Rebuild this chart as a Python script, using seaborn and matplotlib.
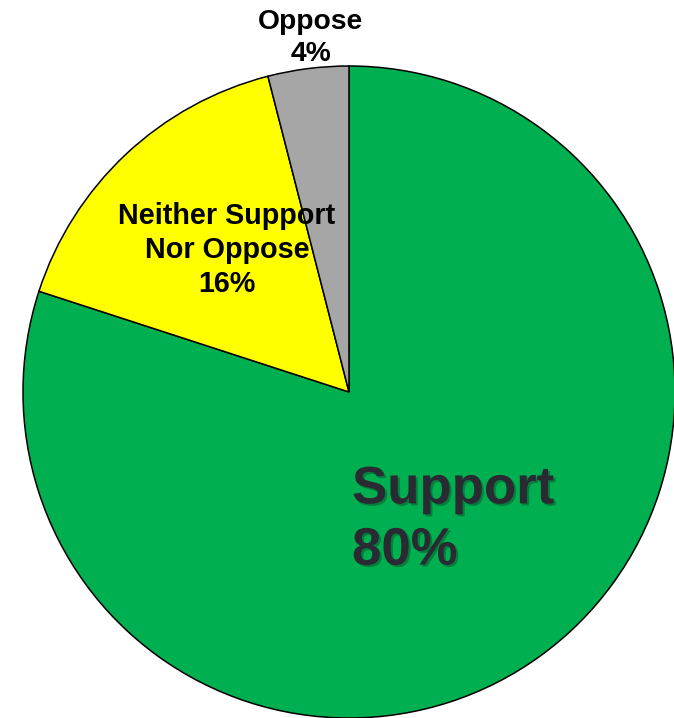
import matplotlib
matplotlib.use("Agg")
import matplotlib.pyplot as plt
import matplotlib.patheffects as pe
import seaborn as sns

categories = ["Support", "Neither Support\nNor Oppose", "Oppose"]
values = [80, 16, 4]
colors = ["#00B050", "#FFFF00", "#A6A6A6"]

sns.set_theme(style="white")
plt.rcParams['font.family'] = ['Liberation Sans', 'DejaVu Sans']

W, H = 674, 718
fig = plt.figure(figsize=(W / 100, H / 100), dpi=100)
cx, cy, r = 349, 392, 326
ax = fig.add_axes([(cx - r) / W, (H - cy - r) / H, 2 * r / W, 2 * r / H])

ax.pie(values, colors=colors, startangle=90, counterclock=False, radius=1,
       wedgeprops=dict(edgecolor="black", linewidth=1.1))
ax.set_xlim(-1, 1)
ax.set_ylim(-1, 1)
ax.set_aspect("equal")
ax.axis("off")

def d(px, py):
    return (px - cx) / r, (cy - py) / r

x, y = d(352, 520)
ax.text(x, y, f"{categories[0]}\n{values[0]}%", ha="left", va="center",
        fontsize=38, fontweight="bold", color="#2A2A33", linespacing=1.29,
        path_effects=[pe.SimplePatchShadow(offset=(1.5, -1.5), alpha=0.3), pe.Normal()])

x, y = d(227, 250)
ax.text(x, y, f"{categories[1]}\n{values[1]}%", ha="center", va="center",
        fontsize=20.7, fontweight="bold", color="black", linespacing=1.25)

x, y = d(311, 38)
ax.text(x, y, f"{categories[2]}\n{values[2]}%", ha="center", va="center",
        fontsize=20.3, fontweight="bold", color="black", linespacing=1.3,
        clip_on=False)

fig.savefig("out.png", dpi=100)
